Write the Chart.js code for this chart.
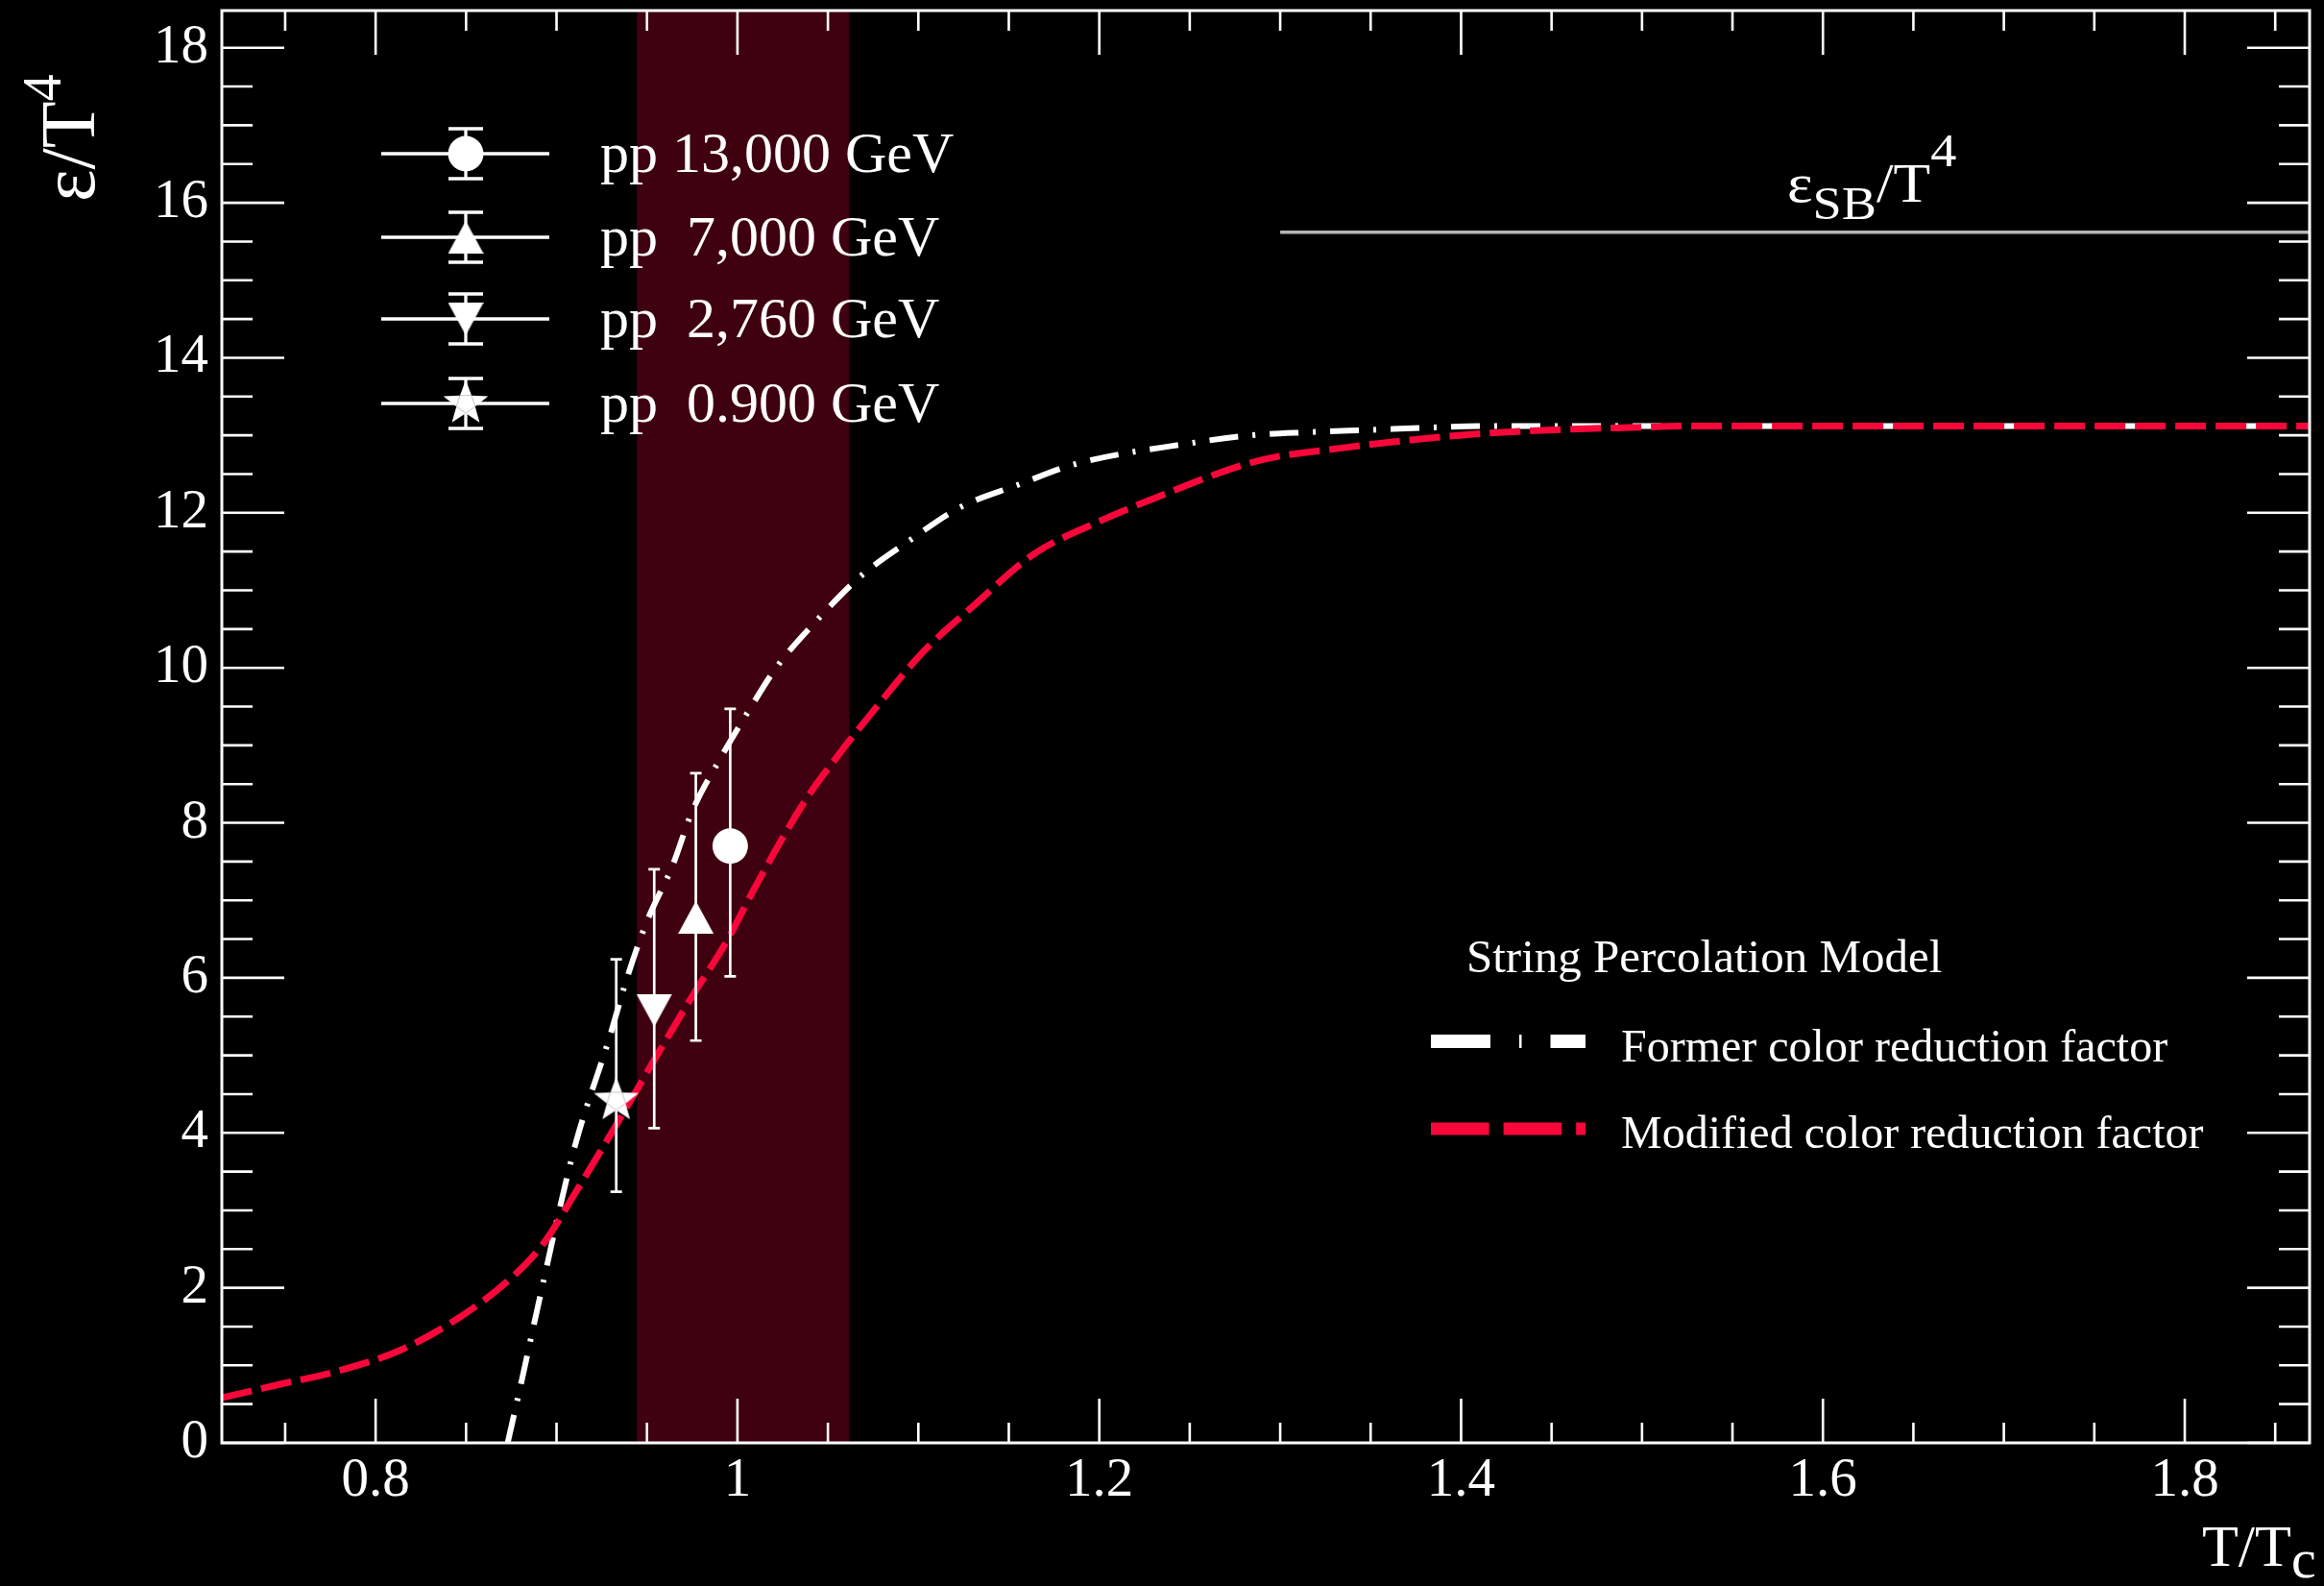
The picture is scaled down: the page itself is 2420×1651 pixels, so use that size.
<!DOCTYPE html>
<html>
<head>
<meta charset="utf-8">
<script src="https://cdn.jsdelivr.net/npm/chart.js@4.4.1/dist/chart.umd.min.js"></script>
<style>
  html, body { margin: 0; padding: 0; background: #000; overflow: hidden; }
  canvas { display: block; }
</style>
</head>
<body>
<canvas id="chart" width="2420" height="1651"></canvas>
<script>
// ---------- data ----------
// String percolation, modified colour reduction factor: epsilon/T^4 vs T/Tc
const modifiedT = [0.715, 0.746, 0.778, 0.814, 0.849, 0.876, 0.893, 0.911, 0.936, 0.955,
                   0.976, 0.994, 1.010, 1.037, 1.054, 1.075, 1.102, 1.130, 1.164, 1.199,
                   1.235, 1.272, 1.293, 1.332, 1.372, 1.410, 1.451, 1.493, 1.530, 1.869];
const modifiedE = [0.58, 0.75, 0.92, 1.20, 1.66, 2.15, 2.58, 3.25, 4.22, 4.98,
                   5.80, 6.47, 7.18, 8.27, 8.82, 9.44, 10.19, 10.79, 11.47, 11.88,
                   12.23, 12.56, 12.70, 12.83, 12.94, 13.02, 13.07, 13.10, 13.12, 13.12];

// String percolation, former colour reduction factor
const formerT = [0.873, 0.881, 0.888, 0.895, 0.902, 0.911, 0.929, 0.939, 0.950, 0.964,
                 0.975, 0.991, 1.005, 1.022, 1.045, 1.068, 1.095, 1.123, 1.155, 1.187,
                 1.251, 1.284, 1.316, 1.350, 1.382, 1.415, 1.869];
const formerE = [0.00, 0.83, 1.58, 2.32, 3.05, 3.90, 5.21, 6.00, 6.73, 7.44,
                 8.15, 8.85, 9.40, 10.02, 10.64, 11.18, 11.64, 12.07, 12.36, 12.63,
                 12.90, 13.00, 13.04, 13.07, 13.10, 13.12, 13.12];

// pp collision points
const ppLabels  = ['pp 13,000 GeV', 'pp  7,000 GeV', 'pp  2,760 GeV', 'pp  0.900 GeV'];
const ppMarkers = ['circle', 'triangleUp', 'triangleDown', 'star'];
const ppT       = [0.996, 0.977, 0.954, 0.933];
const ppE       = [7.70, 6.78, 5.58, 4.42];
const ppErrUp   = [1.77, 1.86, 1.82, 1.82];
const ppErrDown = [1.68, 1.59, 1.52, 1.18];

// Stefan-Boltzmann limit
const sbT = [1.30, 1.869];
const sbE = [15.62, 15.62];

// shaded transition band in T/Tc
const bandT = [0.9445, 1.0618];

// axes
const xRange = [0.715, 1.869];
const yRange = [0, 18.48];
const xTickValues = [0.8, 1, 1.2, 1.4, 1.6, 1.8];
const yTickValues = [0, 2, 4, 6, 8, 10, 12, 14, 16, 18];
const xMinorStep = 0.05;
const yMinorStep = 0.5;

// ---------- styles ----------
const SERIF = "'Liberation Serif', 'Times New Roman', serif";
const RED = '#f7073a';
const WHITE = '#ffffff';
const BAND = '#3f000f';

// ---------- marker shapes ----------
function triangleMarker(up) {
  const w = 37, h = 34;
  const c = document.createElement('canvas');
  c.width = w; c.height = h;
  const g = c.getContext('2d');
  g.fillStyle = WHITE;
  g.beginPath();
  if (up) { g.moveTo(w / 2, 0); g.lineTo(w, h); g.lineTo(0, h); }
  else { g.moveTo(0, 0); g.lineTo(w, 0); g.lineTo(w / 2, h); }
  g.closePath();
  g.fill();
  return c;
}
function starMarker() {
  const R = 24.5, r = R * 0.42, s = 52;
  const c = document.createElement('canvas');
  c.width = s; c.height = s;
  const g = c.getContext('2d');
  const pts = [];
  for (let i = 0; i < 10; i++) {
    const a = -Math.PI / 2 + i * Math.PI / 5;
    const rad = i % 2 ? r : R;
    pts.push([s / 2 + rad * Math.cos(a), s / 2 + rad * Math.sin(a)]);
  }
  g.fillStyle = WHITE;
  g.beginPath();
  pts.forEach((p, i) => i ? g.lineTo(p[0], p[1]) : g.moveTo(p[0], p[1]));
  g.closePath();
  g.fill();
  // faint inner outline
  g.strokeStyle = 'rgba(150,150,150,0.55)';
  g.lineWidth = 1;
  g.beginPath();
  for (let i = 1; i < 10; i += 2) {
    const p = pts[i];
    i === 1 ? g.moveTo(p[0], p[1]) : g.lineTo(p[0], p[1]);
  }
  g.closePath();
  g.stroke();
  return c;
}
const markerImages = {
  triangleUp: triangleMarker(true),
  triangleDown: triangleMarker(false),
  star: starMarker()
};
function pointStyleFor(kind) {
  return kind === 'circle' ? 'circle' : markerImages[kind];
}
function drawMarker(ctx, kind, x, y) {
  if (kind === 'circle') {
    ctx.fillStyle = WHITE;
    ctx.beginPath();
    ctx.arc(x, y, 18.5, 0, Math.PI * 2);
    ctx.fill();
  } else {
    const img = markerImages[kind];
    ctx.drawImage(img, x - img.width / 2, y - img.height / 2);
  }
}

// ---------- datasets ----------
const toXY = (xs, ys) => xs.map((x, i) => ({ x, y: ys[i] }));

const datasets = [];
ppT.forEach((t, i) => {
  datasets.push({
    label: ppLabels[i],
    data: [{ x: t, y: ppE[i] }],
    showLine: false,
    pointStyle: pointStyleFor(ppMarkers[i]),
    pointRadius: 18.5,
    pointBackgroundColor: WHITE,
    pointBorderWidth: 0,
    errIndex: i,
    order: i
  });
});
datasets.push({
  label: 'Modified color reduction factor',
  data: toXY(modifiedT, modifiedE),
  borderColor: RED,
  borderWidth: 7,
  borderDash: [32, 10],
  pointRadius: 0,
  cubicInterpolationMode: 'monotone',
  order: 10
});
datasets.push({
  label: 'Former color reduction factor',
  data: toXY(formerT, formerE),
  borderColor: WHITE,
  borderWidth: 6,
  borderDash: [30, 15, 3, 15],
  pointRadius: 0,
  cubicInterpolationMode: 'monotone',
  order: 11
});
datasets.push({
  label: 'SB limit',
  data: toXY(sbT, sbE),
  borderColor: '#b4b4b4',
  borderWidth: 3.5,
  pointRadius: 0,
  order: 12
});

// ---------- helpers ----------
function richText(ctx, x, y, parts, sx) {
  ctx.save();
  ctx.translate(x, y);
  ctx.scale(sx || 1, 1);
  ctx.textAlign = 'left';
  ctx.textBaseline = 'alphabetic';
  ctx.fillStyle = WHITE;
  let cx = 0;
  for (const p of parts) {
    ctx.font = p.size + 'px ' + SERIF;
    ctx.fillText(p.t, cx, p.dy || 0);
    cx += ctx.measureText(p.t).width;
  }
  ctx.restore();
}

// ---------- plugins ----------
const backdrop = {
  id: 'backdrop',
  beforeDraw(chart) {
    const ctx = chart.ctx;
    ctx.save();
    ctx.fillStyle = '#000';
    ctx.fillRect(0, 0, chart.width, chart.height);
    ctx.restore();
  },
  beforeDatasetsDraw(chart) {
    const { ctx, chartArea: a, scales: { x } } = chart;
    const x0 = x.getPixelForValue(bandT[0]);
    const x1 = x.getPixelForValue(bandT[1]);
    ctx.save();
    ctx.fillStyle = BAND;
    ctx.fillRect(x0, a.top, x1 - x0, a.bottom - a.top);
    ctx.restore();
  }
};

const errorBars = {
  id: 'errorBars',
  beforeDatasetDraw(chart, args) {
    const ds = chart.data.datasets[args.index];
    if (ds.errIndex === undefined) return;
    const i = ds.errIndex;
    const { ctx, scales: { x, y } } = chart;
    const px = x.getPixelForValue(ppT[i]);
    const yTop = y.getPixelForValue(ppE[i] + ppErrUp[i]);
    const yBot = y.getPixelForValue(ppE[i] - ppErrDown[i]);
    ctx.save();
    ctx.strokeStyle = WHITE;
    ctx.lineWidth = 2.7;
    ctx.beginPath();
    ctx.moveTo(px, yTop); ctx.lineTo(px, yBot);
    ctx.moveTo(px - 6, yTop); ctx.lineTo(px + 6, yTop);
    ctx.moveTo(px - 6, yBot); ctx.lineTo(px + 6, yBot);
    ctx.stroke();
    ctx.restore();
  }
};

const frameAndText = {
  id: 'frameAndText',
  afterDraw(chart) {
    const { ctx, chartArea: a, scales: { x, y } } = chart;
    ctx.save();
    ctx.strokeStyle = WHITE;

    // tick marks on all four sides
    ctx.lineWidth = 2.6;
    ctx.beginPath();
    const nx0 = Math.ceil(xRange[0] / xMinorStep - 1e-6), nx1 = Math.floor(xRange[1] / xMinorStep + 1e-6);
    for (let k = nx0; k <= nx1; k++) {
      const v = k * xMinorStep;
      const major = xTickValues.some(t => Math.abs(t - v) < 1e-6);
      const len = major ? 46 : 21;
      const px = x.getPixelForValue(v);
      ctx.moveTo(px, a.bottom); ctx.lineTo(px, a.bottom - len);
      ctx.moveTo(px, a.top); ctx.lineTo(px, a.top + len);
    }
    const ny1 = Math.floor(yRange[1] / yMinorStep + 1e-6);
    for (let k = 0; k <= ny1; k++) {
      const v = k * yMinorStep;
      const major = yTickValues.some(t => Math.abs(t - v) < 1e-6);
      const len = major ? 65 : 32;
      const py = y.getPixelForValue(v);
      ctx.moveTo(a.left, py); ctx.lineTo(a.left + len, py);
      ctx.moveTo(a.right, py); ctx.lineTo(a.right - len, py);
    }
    ctx.stroke();

    // frame
    ctx.lineWidth = 3;
    ctx.strokeRect(a.left, a.top, a.right - a.left, a.bottom - a.top);

    // axis titles
    ctx.save();
    ctx.translate(98, 210);
    ctx.rotate(-Math.PI / 2);
    richText(ctx, 0, 0, [{ t: '\u03b5/T', size: 80 }, { t: '4', size: 56, dy: -35 }]);
    ctx.restore();
    richText(ctx, 2293, 1630, [{ t: 'T/T', size: 62 }, { t: 'c', size: 58, dy: 12 }]);

    // Stefan-Boltzmann label
    richText(ctx, 1861, 210, [
      { t: '\u03b5', size: 56 },
      { t: 'SB', size: 48, dy: 18 },
      { t: '/T', size: 56 },
      { t: '4', size: 48, dy: -37 }
    ], 1.13);

    // legend for the pp points
    const rows = [160, 247, 332, 420];
    ppLabels.forEach((lab, i) => {
      const yy = rows[i];
      ctx.strokeStyle = WHITE;
      ctx.lineWidth = 3.3;
      ctx.beginPath();
      ctx.moveTo(397, yy); ctx.lineTo(572, yy);
      ctx.moveTo(485, yy - 26); ctx.lineTo(485, yy + 26);
      ctx.moveTo(467, yy - 26); ctx.lineTo(503, yy - 26);
      ctx.moveTo(467, yy + 26); ctx.lineTo(503, yy + 26);
      ctx.stroke();
      drawMarker(ctx, ppMarkers[i], 485, yy);
      ctx.fillStyle = WHITE;
      ctx.font = '60px ' + SERIF;
      ctx.textAlign = 'left';
      ctx.textBaseline = 'alphabetic';
      ctx.fillText(lab, 625, yy + 19);
    });

    // model legend
    ctx.fillStyle = WHITE;
    ctx.font = '49px ' + SERIF;
    ctx.textAlign = 'left';
    ctx.textBaseline = 'alphabetic';
    ctx.fillText('String Percolation Model', 1527, 1012);

    ctx.lineCap = 'butt';
    ctx.strokeStyle = WHITE;
    ctx.lineWidth = 14;
    ctx.setLineDash([62, 30, 2.5, 30]);
    ctx.beginPath(); ctx.moveTo(1490, 1084); ctx.lineTo(1651, 1084); ctx.stroke();
    ctx.strokeStyle = RED;
    ctx.lineWidth = 13;
    ctx.setLineDash([60.6, 15]);
    ctx.beginPath(); ctx.moveTo(1490, 1175); ctx.lineTo(1651, 1175); ctx.stroke();
    ctx.setLineDash([]);

    ctx.fillStyle = WHITE;
    ctx.font = '48px ' + SERIF;
    ctx.fillText('Former color reduction factor', 1688, 1105);
    ctx.fillText('Modified color reduction factor', 1688, 1195);

    ctx.restore();
  }
};

// ---------- chart ----------
const tickFont = { family: SERIF, size: 57 };
function pinBox(size, prop) {
  return s => {
    s[prop] = size;
    s.paddingTop = 0; s.paddingBottom = 0; s.paddingLeft = 0; s.paddingRight = 0;
  };
}
new Chart(document.getElementById('chart'), {
  type: 'line',
  data: { datasets },
  options: {
    responsive: false,
    animation: false,
    devicePixelRatio: 1,
    layout: { autoPadding: false, padding: { top: 11, right: 15, left: 0, bottom: 0 } },
    plugins: { legend: { display: false }, tooltip: { enabled: false } },
    scales: {
      x: {
        type: 'linear',
        min: xRange[0],
        max: xRange[1],
        grid: { display: false, drawTicks: false },
        border: { display: false },
        afterBuildTicks: s => { s.ticks = xTickValues.map(v => ({ value: v })); },
        afterFit: pinBox(149, 'height'),
        ticks: {
          color: WHITE, font: tickFont, padding: 6, autoSkip: false, maxRotation: 0,
          callback: v => String(+Number(v).toFixed(2))
        }
      },
      y: {
        type: 'linear',
        min: yRange[0],
        max: yRange[1],
        grid: { display: false, drawTicks: false },
        border: { display: false },
        afterBuildTicks: s => { s.ticks = yTickValues.map(v => ({ value: v })); },
        afterFit: pinBox(231, 'width'),
        ticks: {
          color: WHITE, font: tickFont, padding: 14, autoSkip: false,
          callback: v => String(+Number(v).toFixed(2))
        }
      }
    }
  },
  plugins: [backdrop, errorBars, frameAndText]
});
</script>
</body>
</html>
